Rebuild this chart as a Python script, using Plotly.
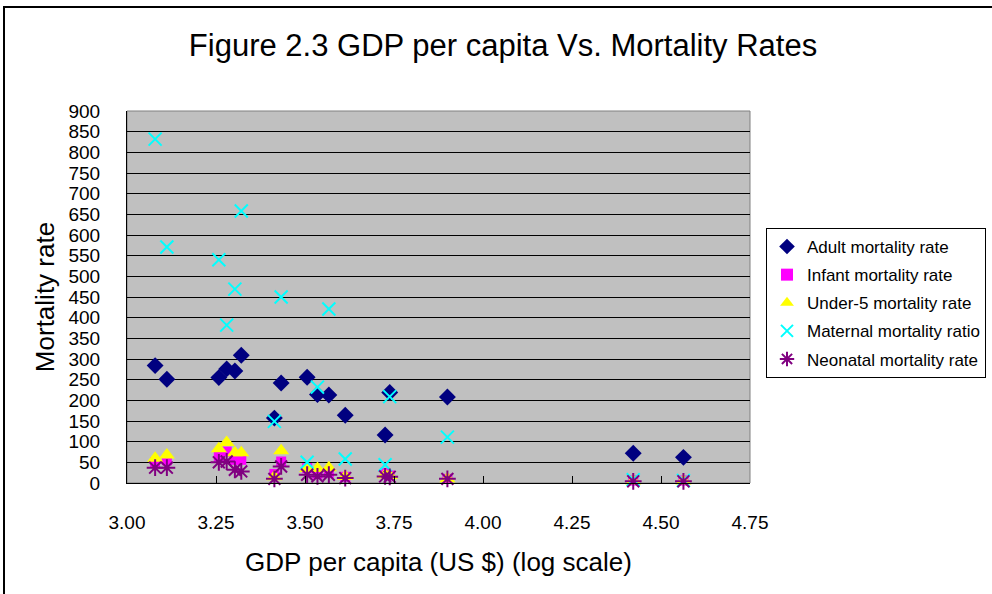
import plotly.graph_objects as go

# log10 of GDP per capita (US$) for each country
gdp_log = [3.079, 3.112, 3.258, 3.280, 3.303, 3.321, 3.414, 3.433, 3.506,
           3.535, 3.567, 3.613, 3.725, 3.738, 3.900, 4.422, 4.563]
adult = [284, 251, 255, 276, 271, 309, 157, 242, 256, 214, 213, 164, 116, 219, 208, 72, 62]
infant = [50, 55, 64, 76, 56, 56, 22, 52, 36, 22, 25, 15, 24, 18, 10, 6, 6]
under5 = [60, 68, 83, 98, 73, 73, 15, 78, 35, 35, 37, 16, 20, 18, 10, 5, 5]
maternal = [832, 571, 540, 382, 469, 658, 149, 450, 50, 232, 421, 58, 44, 209, 111, 8, 6]
neonatal = [37, 37, 50, 52, 32, 28, 10, 40, 20, 16, 20, 12, 16, 15, 10, 4, 4]

x_ticks = [3.00, 3.25, 3.50, 3.75, 4.00, 4.25, 4.50, 4.75]
y_ticks = list(range(0, 901, 50))

FONT = "Liberation Sans, Arial, sans-serif"

series = [
    ("Adult mortality rate", adult, dict(symbol="diamond", color="#000080", size=13)),
    ("Infant mortality rate", infant, dict(symbol="square", color="#FF00FF", size=10)),
    ("Under-5 mortality rate", under5, dict(symbol="triangle-up", color="#FFFF00", size=14)),
    ("Maternal mortality ratio", maternal, dict(symbol="x-thin-open", color="#00FFFF", size=13,
                                                line=dict(color="#00FFFF", width=2))),
    ("Neonatal mortality rate", neonatal, dict(symbol="asterisk-open", color="#800080", size=14,
                                               line=dict(color="#800080", width=2))),
]

fig = go.Figure()
for i, (name, vals, mk) in enumerate(series):
    fig.add_trace(go.Scatter(x=gdp_log, y=vals, mode="markers", name=name,
                             marker=mk, legendgroup=str(i), cliponaxis=False))

W, H = 992, 594
L, T = 127, 111
pw, ph = 623, 372
R = W - L - pw
B = H - T - ph

def px2x(px):
    return (px - L) / pw

def py2y(py):
    return (T + ph - py) / ph

fig.update_layout(
    width=W, height=H,
    margin=dict(l=L, r=R, t=T, b=B, autoexpand=False),
    paper_bgcolor="white",
    plot_bgcolor="#C0C0C0",
    font=dict(family=FONT, color="black"),
    title=dict(text="Figure 2.3 GDP per capita Vs. Mortality Rates",
               x=503 / W, xref="container", xanchor="center",
               y=1 - 45 / H, yref="container", yanchor="middle",
               font=dict(size=31, family=FONT)),
    xaxis=dict(range=[3.0, 4.75], tickvals=x_ticks,
               ticktext=[f"{v:.2f}" for v in x_ticks],
               showgrid=False, zeroline=False,
               showline=True, linecolor="black", linewidth=1,
               ticks="inside", ticklen=7, tickcolor="black",
               ticklabelstandoff=22,
               tickfont=dict(size=19, family=FONT),
               title=dict(text="GDP per capita (US $) (log scale)",
                          font=dict(size=26, family=FONT), standoff=21),
               mirror=False),
    yaxis=dict(range=[0, 900], tickvals=y_ticks,
               showgrid=True, gridcolor="black", gridwidth=1,
               zeroline=False,
               showline=True, linecolor="black", linewidth=1,
               ticks="inside", ticklen=7, tickcolor="black",
               ticklabelstandoff=22,
               tickfont=dict(size=19, family=FONT),
               title=dict(text="Mortality rate",
                          font=dict(size=26, family=FONT), standoff=6)),
    legend=dict(x=px2x(766), xanchor="left", y=py2y(228), yanchor="top",
                bgcolor="white", bordercolor="black", borderwidth=1,
                font=dict(size=17, family=FONT),
                itemwidth=30,
                tracegroupgap=3, itemsizing="constant"),
    showlegend=True,
)

# plot-area outline
fig.add_shape(type="rect", xref="paper", yref="paper", x0=0, x1=1, y0=0, y1=1,
              line=dict(color="#808080", width=1), fillcolor="rgba(0,0,0,0)", layer="below")
# outer chart border
fig.add_shape(type="rect", xref="paper", yref="paper",
              x0=px2x(4), x1=px2x(1100), y0=py2y(700), y1=py2y(7),
              line=dict(color="black", width=2), fillcolor="rgba(0,0,0,0)")

fig.write_html("out.html",
               config={"displayModeBar": False},
               post_script="document.body.style.margin='0';document.body.style.overflow='hidden';")
